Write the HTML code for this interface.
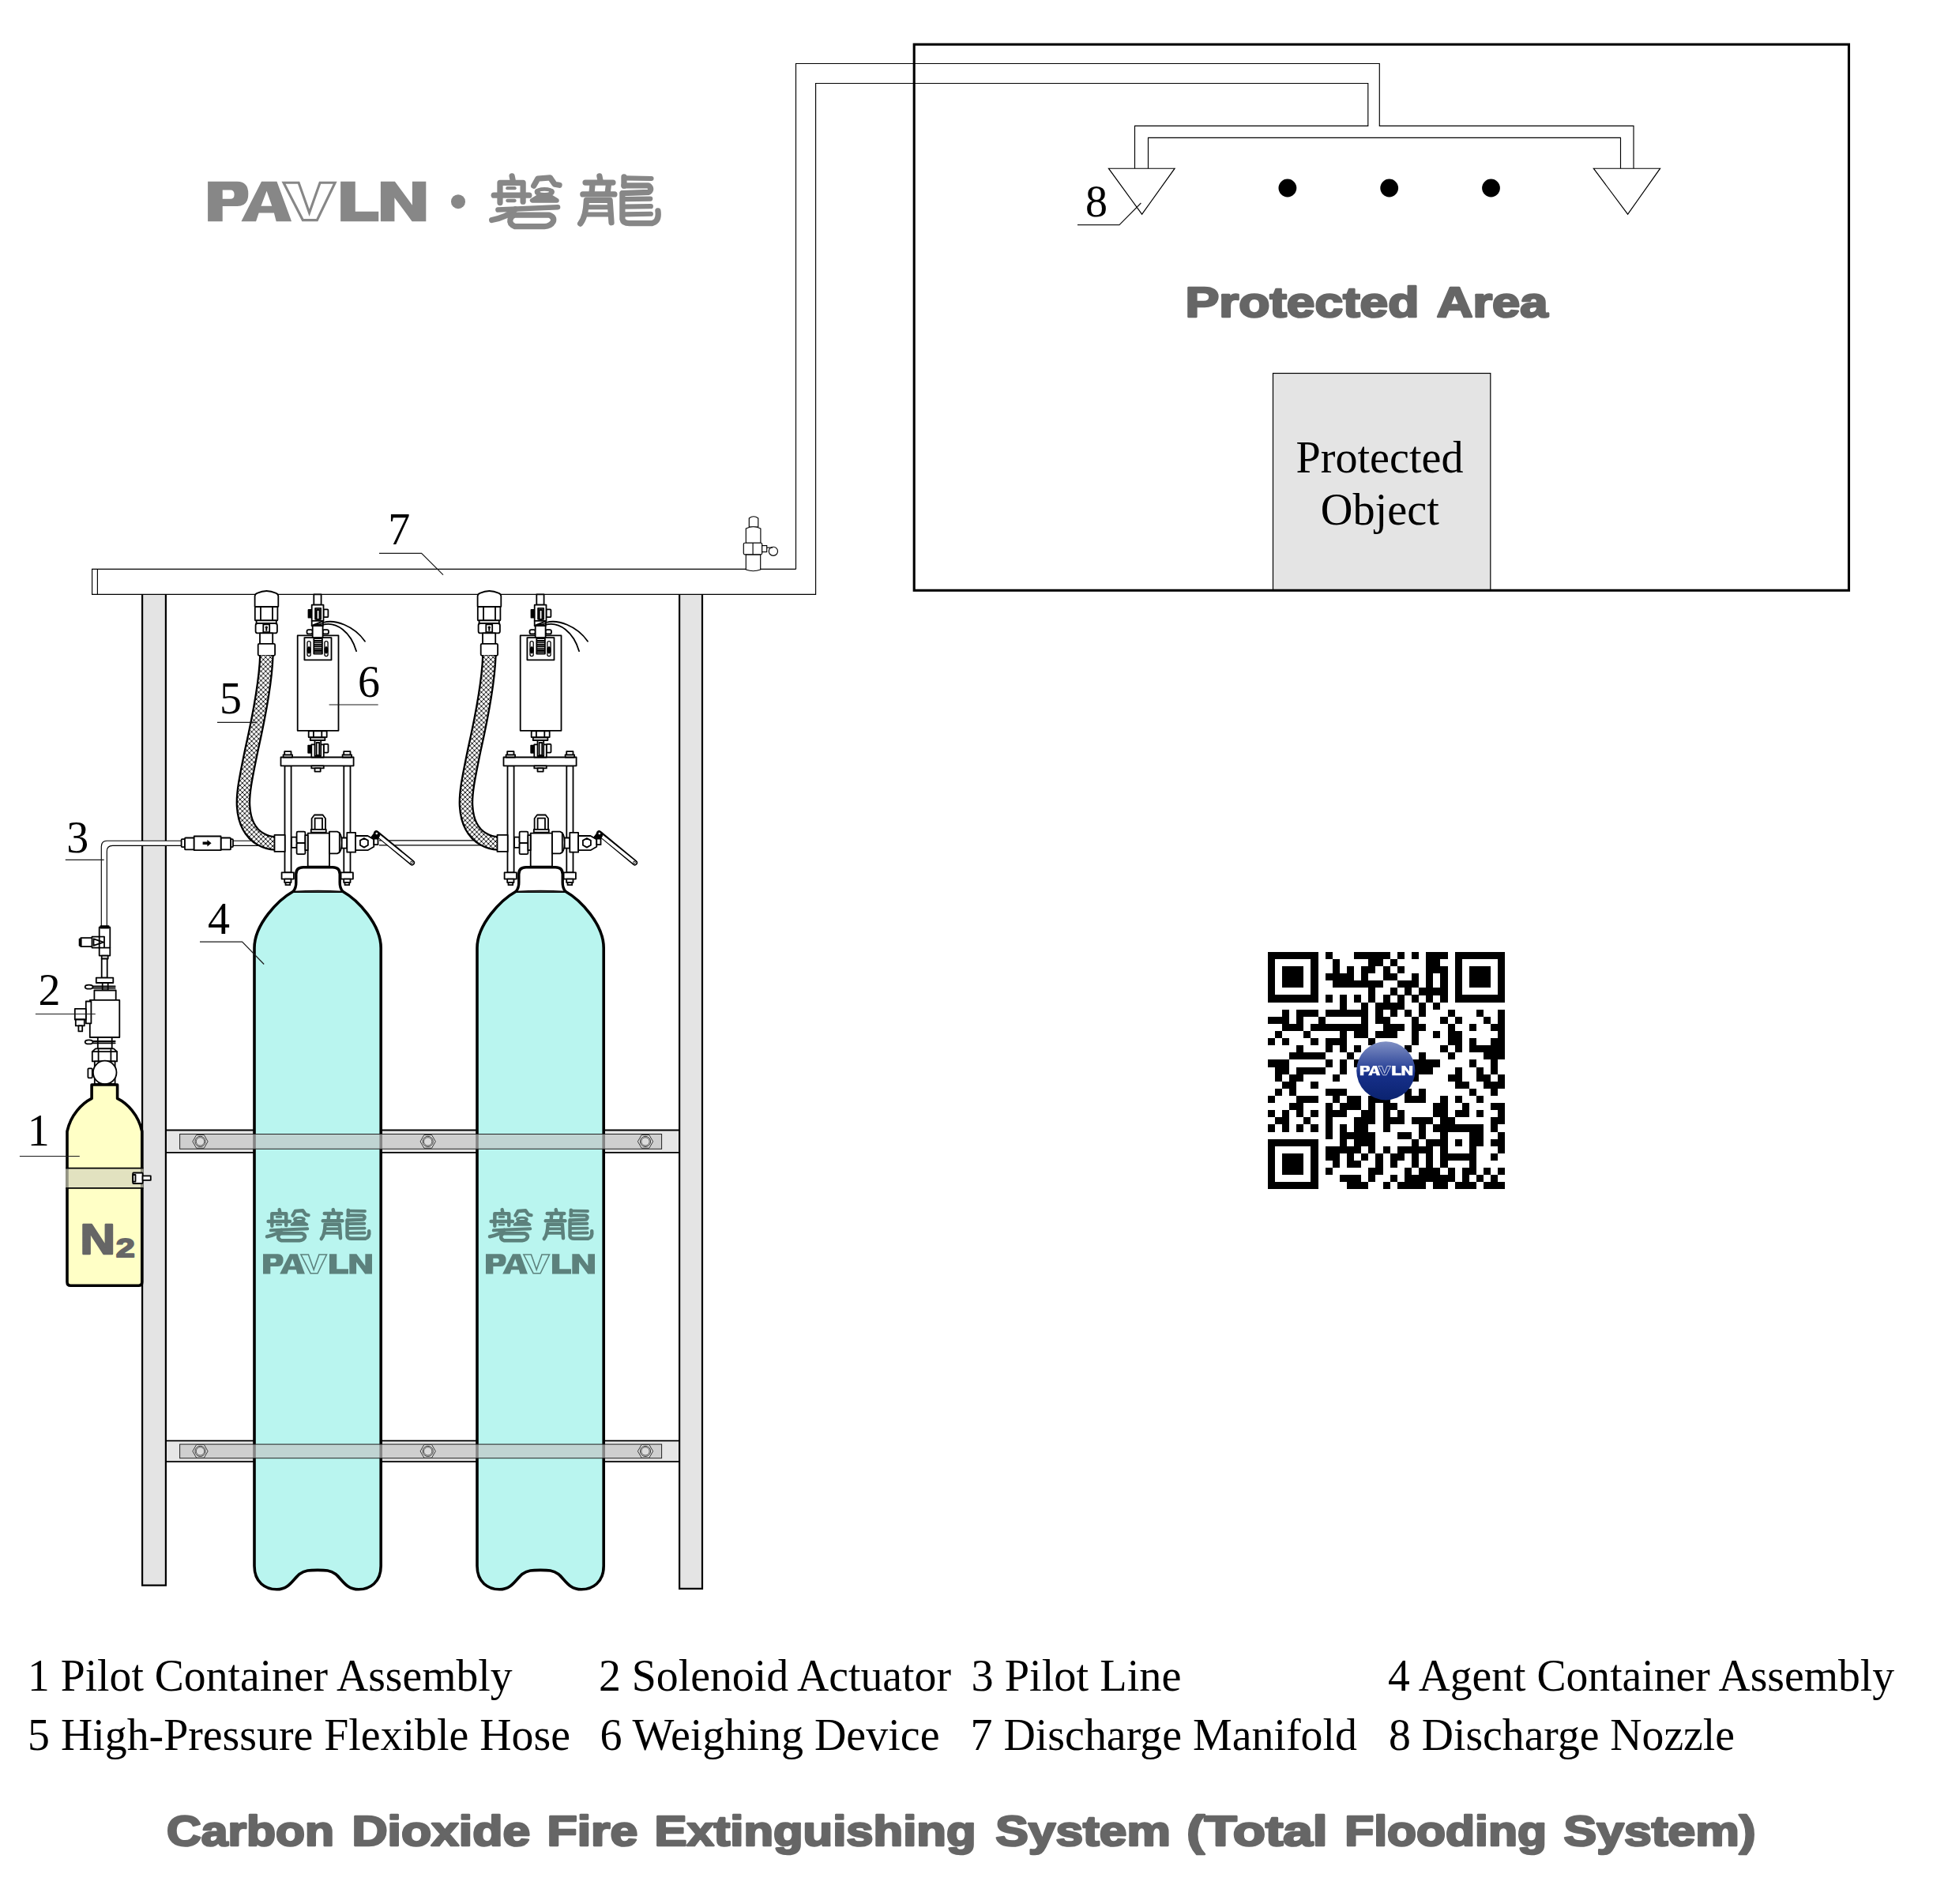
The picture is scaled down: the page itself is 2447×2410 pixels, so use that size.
<!DOCTYPE html>
<html><head><meta charset="utf-8"><title>Carbon Dioxide Fire Extinguishing System</title>
<style>
html,body{margin:0;padding:0;background:#fff;}
body{width:2447px;height:2410px;overflow:hidden;font-family:"Liberation Serif",serif;}
svg{display:block;position:absolute;left:0;top:0;}
text{font-family:"Liberation Serif",serif;fill:#000;}
.sans{font-family:"Liberation Sans",sans-serif;font-weight:bold;}
.k{fill:#fff;stroke:#000;stroke-width:1.8;stroke-linejoin:round;}
.kn{fill:none;stroke:#000;stroke-width:1.8;stroke-linejoin:round;stroke-linecap:round;}
.t{fill:none;stroke:#000;stroke-width:1.15;}
.tw{fill:#fff;stroke:#000;stroke-width:1.15;}
.ld{fill:none;stroke:#1a1a1a;stroke-width:1.2;}
</style></head>
<body>
<svg width="2447" height="2410" viewBox="0 0 2447 2410">
<defs>
<symbol id="pavln" overflow="visible">
<path fill-rule="evenodd" stroke="none" d="M52 95 H292 Q382 95 382 195 Q382 297 292 297 H172 V420 H52 Z M172 165 V237 H235 Q268 237 268 201 Q268 165 235 165 Z"/>
<path fill-rule="evenodd" stroke="none" d="M325 420 L490 95 H615 L735 420 H610 L592 352 H468 L445 420 Z M532 172 L486 295 H575 Z"/>
<path fill="none" stroke-width="20" stroke-linejoin="miter" d="M670 105 H793 L880 350 L967 105 H1090 L943 410 H827 Z"/>
<path stroke="none" d="M1135 95 H1255 V340 H1445 V420 H1135 Z"/>
<path stroke="none" d="M1462 95 H1578 L1720 288 V95 H1832 V420 H1718 L1575 228 V420 H1462 Z"/>
</symbol>
<symbol id="panlong" overflow="visible">
<g fill="none" stroke="currentColor" stroke-width="56" stroke-linecap="round" stroke-linejoin="round">
<path d="M372 100 L380 140"/>
<path d="M255 360 V165 H480 V350"/>
<path d="M195 288 H540"/>
<path d="M328 218 H398" stroke-width="34"/>
<path d="M328 340 H398" stroke-width="34"/>
<path d="M585 195 L625 125 L745 115 L790 180 L835 188"/>
<ellipse cx="690" cy="254" rx="80" ry="27" stroke-width="36"/>
<path d="M622 250 V262 M758 250 V262" stroke-width="50"/>
<path d="M640 296 L570 338 H810 L740 296 Z" fill="currentColor" stroke-width="46"/>
<path d="M235 430 L820 404" stroke-width="50"/>
<path d="M405 425 Q330 500 175 530"/>
<path d="M400 480 H735 Q790 500 775 545 Q750 590 690 592 H400 Q345 570 355 525 Q365 485 400 480 Z"/>
<path d="M1228 100 L1238 150"/>
<path d="M1090 163 H1360"/>
<path d="M1160 175 L1152 260"/>
<path d="M1318 175 L1308 260"/>
<path d="M1065 278 H1375"/>
<path d="M1040 565 Q1095 500 1100 335 H1330 L1345 555"/>
<path d="M1115 405 H1325" stroke-width="46"/>
<path d="M1110 475 H1328" stroke-width="46"/>
<path d="M1468 108 V195"/>
<path d="M1468 120 L1735 124" stroke-width="48"/>
<path d="M1468 192 H1705 Q1750 225 1710 258 L1455 268"/>
<path d="M1452 268 V520 Q1460 562 1520 562 H1740 Q1815 545 1800 440"/>
<path d="M1475 326 L1725 322" stroke-width="48"/>
<path d="M1475 400 L1730 396" stroke-width="48"/>
<path d="M1475 474 L1730 470" stroke-width="48"/>
</g>
</symbol><pattern id="hatch" width="5.9" height="5.9" patternUnits="userSpaceOnUse"><rect width="5.9" height="5.9" fill="#fff"/><path d="M-1 -1 L6.9 6.9 M6.9 -1 L-1 6.9" stroke="#000" stroke-width="0.95" fill="none"/></pattern>
<g id="asm">
<path d="M371.3 1128.2 C352 1139 322 1170 322 1200 V1982 C322 2003 336 2011.8 350.3 2011.8 C366 2011.8 371 1999 379 1992.5 C386 1987.4 392 1987.4 402.1 1987.4 C412 1987.4 418 1987.4 425 1992.5 C433 1999 438 2011.8 454 2011.8 C468 2011.8 482.2 2003 482.2 1982 V1200 C482.2 1170 453 1139 433.7 1128.2 Z" fill="#b9f5ef" stroke="#000" stroke-width="3.6" stroke-linejoin="round"/>
<path d="M371.3 1128.2 C375.5 1123 374.8 1119 374.8 1115 V1106.5 C374.8 1100.5 378 1097.8 384 1097.8 H421 C427 1097.8 430.2 1100.5 430.2 1106.5 V1115 C430.2 1119 429.5 1123 433.7 1128.2 Z" fill="#fff" stroke="none"/>
<path d="M371.3 1128.2 C375.5 1123 374.8 1119 374.8 1115 V1106.5 C374.8 1100.5 378 1097.8 384 1097.8 H421 C427 1097.8 430.2 1100.5 430.2 1106.5 V1115 C430.2 1119 429.5 1123 433.7 1128.2" fill="none" stroke="#000" stroke-width="3.4" stroke-linejoin="round" stroke-linecap="round"/>
<path d="M371.3 1128.4 Q402.5 1126.2 433.7 1128.4" fill="none" stroke="#000" stroke-width="1.3"/>
<rect class="k" x="389.70" y="1054.70" width="27.30" height="41.90"/>
<rect class="k" x="369.00" y="1059.70" width="6.60" height="13.20"/>
<rect class="k" x="375.60" y="1052.70" width="10.80" height="14.40" rx="1.5"/>
<rect class="k" x="375.60" y="1067.10" width="10.80" height="14.10" rx="1.5"/>
<rect class="k" x="386.40" y="1057.20" width="3.30" height="19.00"/>
<path class="k" d="M394.6 1049.8 V1036 L398 1031.5 H408.6 L412 1036 V1049.8 Z"/>
<rect class="kn" x="398.60" y="1035.60" width="9.40" height="14.20" stroke-width="1.3"/>
<rect class="k" x="393.80" y="1049.80" width="19.00" height="3.80"/>
<path class="k" d="M417 1052.7 H427 Q432.7 1054 432.7 1066.5 Q432.7 1079 427 1080.4 H417 Z"/>
<path class="kn" d="M429.8 1054.5 V1078.6" stroke-width="2.2"/>
<rect class="k" x="360.50" y="969.30" width="8.10" height="135.10"/>
<rect class="k" x="435.30" y="969.30" width="8.20" height="135.10"/>
<rect class="k" x="355.50" y="958.50" width="92.10" height="10.80" stroke-width="1.9"/>
<rect class="k" x="358.60" y="955.30" width="11.50" height="3.20"/>
<rect class="k" x="360.20" y="951.20" width="8.30" height="4.10"/>
<rect class="k" x="356.60" y="1104.40" width="15.30" height="8.20"/>
<rect class="k" x="360.20" y="1112.60" width="8.30" height="4.40"/>
<rect class="k" x="361.50" y="1117.00" width="5.70" height="3.20"/>
<rect class="k" x="433.60" y="955.30" width="11.50" height="3.20"/>
<rect class="k" x="435.20" y="951.20" width="8.30" height="4.10"/>
<rect class="k" x="431.60" y="1104.40" width="15.30" height="8.20"/>
<rect class="k" x="435.20" y="1112.60" width="8.30" height="4.40"/>
<rect class="k" x="436.50" y="1117.00" width="5.70" height="3.20"/>
<rect class="k" x="394.30" y="969.30" width="15.50" height="3.10"/>
<rect class="k" x="398.50" y="972.40" width="7.20" height="4.20"/>
<rect class="k" x="432.70" y="1060.50" width="6.60" height="13.20"/>
<rect class="k" x="439.30" y="1053.90" width="10.80" height="24.80"/>
<path class="k" d="M450.1 1058 H465.5 L473.3 1062.4 V1071.8 L465.5 1076.2 H450.1 Z"/>
<path class="k" d="M460.9 1061 L465.9 1063.9 V1069.7 L460.9 1072.6 L455.9 1069.7 V1063.9 Z"/>
<rect class="k" x="473.30" y="1061.60" width="5.20" height="7.60"/>
<path d="M476.5 1054.6 L521.6 1092" stroke="#000" stroke-width="7" stroke-linecap="round" fill="none"/>
<path d="M477.8 1056.6 L521.6 1092" stroke="#fff" stroke-width="3.8" stroke-linecap="round" fill="none"/>
<circle cx="521" cy="1091.5" r="1.4" fill="#fff" stroke="#000" stroke-width="0.9"/>
<path d="M469.5 1060 L474 1054 Q476.5 1051.3 479.3 1053.6 L481 1057 L478.5 1061.8 Z" fill="#000" stroke="#000" stroke-width="1"/>
<circle cx="476.8" cy="1055" r="1.3" fill="#fff"/>
<rect class="k" x="397.30" y="752.30" width="9.30" height="13.40"/>
<rect class="k" x="390.50" y="771.90" width="4.20" height="9.80" style="fill:#000"/>
<rect class="k" x="409.50" y="771.40" width="5.90" height="9.80" rx="1"/>
<rect class="k" x="394.70" y="765.70" width="14.80" height="20.20"/>
<rect class="kn" x="399.10" y="769.80" width="7.00" height="14.00" stroke-width="1.2"/>
<rect class="kn" x="400.80" y="772.00" width="3.60" height="11.80" stroke-width="1"/>
<rect class="k" x="394.70" y="785.90" width="14.10" height="6.30"/>
<path class="kn" d="M394.7 791.8 L408.8 786.4 M397 792.2 L408.8 789.3" stroke-width="1.1"/>
<rect class="k" x="388.50" y="797.20" width="7.20" height="5.20" rx="2"/>
<rect class="k" x="408.60" y="797.20" width="7.40" height="5.20" rx="2"/>
<rect class="k" x="376.70" y="804.40" width="51.80" height="120.40" stroke-width="1.9"/>
<rect class="k" x="395.70" y="792.20" width="12.90" height="15.30"/>
<rect class="k" x="385.40" y="807.10" width="34.10" height="28.20" stroke-width="1.8"/>
<rect class="k" x="397.30" y="808.20" width="10.60" height="19.30" stroke-width="1.3"/>
<path class="kn" d="M398 811.0 H407.3 M398 813.4 H407.3 M398 815.8 H407.3 M398 818.2 H407.3 M398 820.6 H407.3 M398 823.0 H407.3 M398 825.2 H407.3" stroke-width="0.8"/>
<rect x="389.0" y="811.6" width="4.2" height="19" rx="2.1" fill="#fff" stroke="#000" stroke-width="1.3"/>
<ellipse cx="391.1" cy="822.8" rx="2.4" ry="4.6" fill="#000"/>
<rect x="410.9" y="811.6" width="4.2" height="19" rx="2.1" fill="#fff" stroke="#000" stroke-width="1.3"/>
<ellipse cx="413" cy="822.8" rx="2.4" ry="4.6" fill="#000"/>
<path class="kn" d="M409.2 788 C424 783.5 448 792 462 811.7" stroke-width="1.3"/>
<path class="kn" d="M409.2 790.7 C426 786.5 444 800 451.1 824.2" stroke-width="1.3"/>
<rect class="k" x="390.70" y="925.40" width="23.00" height="7.70"/>
<path class="kn" d="M396.9 925.4 V933.1 M407.3 925.4 V933.1" stroke-width="1.3"/>
<rect class="k" x="392.80" y="933.60" width="18.60" height="3.40"/>
<rect class="k" x="390.20" y="943.60" width="4.10" height="9.20" style="fill:#000"/>
<rect class="k" x="409.80" y="941.80" width="5.70" height="10.80" rx="1"/>
<rect class="k" x="394.30" y="942.40" width="15.50" height="16.10"/>
<rect class="k" x="398.50" y="937.00" width="7.70" height="20.00"/>
<rect class="kn" x="400.60" y="940.00" width="3.60" height="16.00" stroke-width="1"/>
<path class="k" d="M322.6 767.8 V754.5 Q322.8 751.8 326 750.6 Q337.4 745.4 349 750.6 Q352.1 751.8 352.3 754.5 V767.8 Z"/>
<rect class="k" x="322.80" y="768.10" width="28.60" height="17.30" rx="1"/>
<path class="kn" d="M330 768.1 V785.4 M345 768.1 V785.4" stroke-width="1.4"/>
<rect class="k" x="324.60" y="785.40" width="25.20" height="3.60"/>
<rect class="k" x="323.60" y="789.00" width="27.30" height="12.40" rx="2.5"/>
<rect class="kn" x="333.30" y="790.30" width="7.90" height="9.90" stroke-width="1.2"/>
<path d="M337.3 792.5 a1.7 1.7 0 1 1 -0.01 0 M336.3 795 h2 v3.8 h-2z" fill="#000"/>
<rect class="k" x="329.00" y="801.40" width="16.20" height="13.40"/>
<rect class="k" x="326.70" y="814.80" width="21.40" height="15.00" rx="1.5"/>
<path d="M337.4 829.8 C336 870 325 920 318.3 949.7 C311 985 307 1005 308.1 1020.6 C309.2 1040 317 1055 330 1062.2 C337 1066.2 342 1067.4 348 1067.4" fill="none" stroke="#000" stroke-width="18.6"/>
<path d="M337.4 829.8 C336 870 325 920 318.3 949.7 C311 985 307 1005 308.1 1020.6 C309.2 1040 317 1055 330 1062.2 C337 1066.2 342 1067.4 348 1067.4" fill="none" stroke="url(#hatch)" stroke-width="14"/>
<rect class="k" x="347.50" y="1056.80" width="13.20" height="21.10"/>
</g><linearGradient id="qrg" x1="0" y1="0" x2="0" y2="1"><stop offset="0" stop-color="#8090c4"/><stop offset="0.45" stop-color="#2f479a"/><stop offset="0.55" stop-color="#17308a"/><stop offset="1" stop-color="#0b2370"/></linearGradient>
</defs>
<rect x="0" y="0" width="2447" height="2410" fill="#ffffff"/>
<g id="frame">
<rect x="210" y="1430.5" width="650" height="28.40" fill="#e6e6e6"/><path d="M210 1430.5 H860 M210 1458.9 H860" stroke="#000" stroke-width="1.8" fill="none"/>
<rect x="210" y="1823.6" width="650" height="26.60" fill="#e6e6e6"/><path d="M210 1823.6 H860 M210 1850.2 H860" stroke="#000" stroke-width="1.8" fill="none"/>
<rect x="180.1" y="752.3" width="29.80" height="1254.40" fill="#e4e4e4"/>
<path d="M180.1 752.3 V2006.7 H209.9 V752.3" fill="none" stroke="#000" stroke-width="2.2" stroke-linejoin="miter"/>
<rect x="860.1" y="752.3" width="28.90" height="1258.60" fill="#e4e4e4"/>
<path d="M860.1 752.3 V2010.9 H889.0 V752.3" fill="none" stroke="#000" stroke-width="2.2" stroke-linejoin="miter"/>
</g><g id="pipes">
<rect x="1611.5" y="472.5" width="275.3" height="275" fill="#e4e4e4" stroke="#000" stroke-width="1.2"/>
<rect x="1157.2" y="56.2" width="1183.3" height="691.1" fill="none" stroke="#000" stroke-width="3.1"/>
<path class="t" d="M1007.5 720.4 H116.6 V752.3 H1032.6 V105.5 H1731.8 V159.3 H1436.5 V213.2"/>
<path class="t" d="M1007.5 720.4 V80.5 H1746.3 V159.3 H2068 V213.2"/>
<path class="t" d="M1453.5 213.2 V174.3 H2051.5 V213.2"/>
<path class="t" d="M123.4 720.4 V752.3"/>
<path class="tw" d="M1403.4 213.2 H1487.1 L1445.6 271.2 Z"/>
<path class="tw" d="M2017.3 213.2 H2101.6 L2060.6 271.2 Z"/>
<circle cx="1629.9" cy="238" r="11.4" fill="#000"/>
<circle cx="1758.7" cy="238" r="11.4" fill="#000"/>
<circle cx="1887.5" cy="238" r="11.4" fill="#000"/>
<g class="tw">
<path d="M944.3 721 V701.8 H962.7 V721 Q953.5 724.5 944.3 721 Z" />
<path d="M948.3 667 V656 Q954 651.5 959.8 656 V667 Z"/>
<path d="M944.3 687.2 V669 Q953.6 664.5 962.9 669 V687.2 Z"/>
<rect x="941.3" y="687.2" width="23.4" height="14.6" rx="1.5"/>
<path d="M953.1 687.2 V701.8" />
<rect x="964.7" y="690.6" width="6" height="8"/>
<path d="M970.7 693.2 H978" />
<circle cx="978.9" cy="697.8" r="5.6" fill="none"/>
</g>
</g><g id="equip">
<path class="t" d="M480 1063.8 H625 M480 1069.8 H625"/>
<path class="t" d="M294 1064.2 H335 M294 1070.3 H335"/>
<use href="#asm"/>
<use href="#asm" transform="translate(282.0 0)"/>
<rect class="k" x="229.60" y="1062.20" width="4.40" height="9.90" rx="1"/>
<rect class="k" x="292.00" y="1062.20" width="3.00" height="9.90" rx="1"/>
<rect class="k" x="234.00" y="1060.50" width="11.70" height="14.90" rx="1"/>
<rect class="k" x="279.60" y="1060.50" width="12.40" height="14.90" rx="1"/>
<rect class="k" x="245.70" y="1058.50" width="33.90" height="17.70" stroke-width="1.8"/>
<path d="M256.6 1065.4 H262.4 V1063 L267.6 1067.2 L262.4 1071.4 V1069 H256.6 Z" fill="#000"/>
<rect x="227.6" y="1435.5" width="610" height="18.80" fill="rgba(196,196,196,0.68)" stroke="#222" stroke-width="1"/><polygon points="263.10,1444.90 258.30,1453.21 248.70,1453.21 243.90,1444.90 248.70,1436.59 258.30,1436.59" fill="#e2e2e2" stroke="#222" stroke-width="0.9"/><circle cx="253.5" cy="1444.9" r="6.6" fill="#e6e6e6" stroke="#222" stroke-width="0.9"/><circle cx="253.5" cy="1444.9" r="5.2" fill="#dcdcdc" stroke="#333" stroke-width="0.8"/><polygon points="551.30,1444.90 546.50,1453.21 536.90,1453.21 532.10,1444.90 536.90,1436.59 546.50,1436.59" fill="#e2e2e2" stroke="#222" stroke-width="0.9"/><circle cx="541.7" cy="1444.9" r="6.6" fill="#e6e6e6" stroke="#222" stroke-width="0.9"/><circle cx="541.7" cy="1444.9" r="5.2" fill="#dcdcdc" stroke="#333" stroke-width="0.8"/><polygon points="826.60,1444.90 821.80,1453.21 812.20,1453.21 807.40,1444.90 812.20,1436.59 821.80,1436.59" fill="#e2e2e2" stroke="#222" stroke-width="0.9"/><circle cx="817" cy="1444.9" r="6.6" fill="#e6e6e6" stroke="#222" stroke-width="0.9"/><circle cx="817" cy="1444.9" r="5.2" fill="#dcdcdc" stroke="#333" stroke-width="0.8"/>
<rect x="227.6" y="1828.1" width="610" height="17.60" fill="rgba(196,196,196,0.68)" stroke="#222" stroke-width="1"/><polygon points="263.10,1836.90 258.30,1845.21 248.70,1845.21 243.90,1836.90 248.70,1828.59 258.30,1828.59" fill="#e2e2e2" stroke="#222" stroke-width="0.9"/><circle cx="253.5" cy="1836.9" r="6.6" fill="#e6e6e6" stroke="#222" stroke-width="0.9"/><circle cx="253.5" cy="1836.9" r="5.2" fill="#dcdcdc" stroke="#333" stroke-width="0.8"/><polygon points="551.30,1836.90 546.50,1845.21 536.90,1845.21 532.10,1836.90 536.90,1828.59 546.50,1828.59" fill="#e2e2e2" stroke="#222" stroke-width="0.9"/><circle cx="541.7" cy="1836.9" r="6.6" fill="#e6e6e6" stroke="#222" stroke-width="0.9"/><circle cx="541.7" cy="1836.9" r="5.2" fill="#dcdcdc" stroke="#333" stroke-width="0.8"/><polygon points="826.60,1836.90 821.80,1845.21 812.20,1845.21 807.40,1836.90 812.20,1828.59 821.80,1828.59" fill="#e2e2e2" stroke="#222" stroke-width="0.9"/><circle cx="817" cy="1836.9" r="6.6" fill="#e6e6e6" stroke="#222" stroke-width="0.9"/><circle cx="817" cy="1836.9" r="5.2" fill="#dcdcdc" stroke="#333" stroke-width="0.8"/>
</g><g id="pilot">
<rect x="179" y="1064.2" width="32" height="6.1" fill="#fff"/>
<path class="t" d="M128.3 1174 V1071.4 Q128.3 1064.2 135.5 1064.2 H230"/>
<path class="t" d="M135.3 1174 V1077.5 Q135.3 1070.3 142.5 1070.3 H230"/>
<rect class="k" x="102.30" y="1187.20" width="14.70" height="11.00"/>
<rect class="k" x="100.60" y="1188.60" width="2.00" height="8.20" style="fill:#000"/>
<rect class="k" x="116.50" y="1185.70" width="9.50" height="13.90"/>
<rect class="k" x="125.70" y="1173.70" width="13.60" height="35.90"/>
<path class="kn" d="M125.7 1185.7 H132 M125.7 1199.6 H139.3 M132 1185.7 V1199.6" stroke-width="1.3"/>
<path class="kn" d="M118.5 1188.4 L131 1192.6 L118.5 1196.9 Z" stroke-width="1.2"/>
<rect class="k" x="127.40" y="1172.20" width="10.20" height="2.40" style="fill:#000"/>
<rect class="k" x="128.70" y="1209.60" width="8.00" height="4.00" style="fill:#ddd"/>
<rect class="k" x="128.70" y="1213.60" width="7.00" height="24.00"/>
<rect class="k" x="121.80" y="1237.60" width="21.50" height="6.40"/>
<rect class="k" x="129.70" y="1244.00" width="7.00" height="9.50"/>
<path class="kn" d="M117.5 1248.3 H145.7 M117.5 1250.6 H145.7" stroke-width="1.1"/>
<ellipse cx="112.6" cy="1249.2" rx="4.9" ry="2.5" class="k" stroke-width="1.4"/>
<rect class="k" x="119.40" y="1253.50" width="27.30" height="12.40"/>
<rect class="k" x="113.80" y="1265.90" width="37.50" height="47.10" stroke-width="1.9"/>
<rect class="k" x="108.80" y="1267.50" width="6.60" height="27.90"/>
<rect class="k" x="94.80" y="1276.90" width="14.00" height="13.60"/>
<rect class="k" x="95.80" y="1290.50" width="11.00" height="7.90"/>
<rect class="k" x="99.40" y="1298.40" width="4.80" height="7.00"/>
<rect class="k" x="123.80" y="1313.00" width="17.90" height="14.40"/>
<path class="kn" d="M117.5 1318 H145.7 M117.5 1320.3 H145.7" stroke-width="1.1"/>
<ellipse cx="112.6" cy="1318.9" rx="4.9" ry="2.5" class="k" stroke-width="1.4"/>
<path class="k" d="M116.8 1343.4 V1331.2 L121 1327.4 H144 L148.1 1331.2 V1343.4 Z"/>
<path class="kn" d="M124.6 1329 V1343.4 M140.4 1329 V1343.4 M116.8 1331.2 H148.1" stroke-width="1.2"/>
<rect class="k" x="119.80" y="1343.40" width="25.80" height="28.60"/>
<rect class="k" x="111.40" y="1352.30" width="5.40" height="12.00" rx="1"/>
<circle cx="132.7" cy="1357.5" r="14.8" class="k" stroke-width="1.8"/>
<path d="M116.1 1373 H148.6 V1390.4 C161 1396.5 175.3 1411 179.8 1432 V1622.8 Q179.8 1627.3 175.3 1627.3 H89.5 Q85 1627.3 85 1622.8 V1432 C89.5 1411 104 1396.5 116.1 1390.4 Z" fill="#ffffc6" stroke="#000" stroke-width="3.6" stroke-linejoin="round"/>
<rect x="83.2" y="1478.7" width="98.3" height="25.2" fill="rgba(214,214,190,0.7)"/>
<path d="M83.2 1478.7 H181.5 M83.2 1503.9 H181.5" stroke="#000" stroke-width="1.7" fill="none"/>
<rect class="k" x="168.20" y="1484.50" width="12.40" height="13.50" rx="0.8"/>
<rect class="kn" x="168.20" y="1487.00" width="3.30" height="8.60" stroke-width="1"/>
<rect class="k" x="180.60" y="1488.40" width="10.20" height="5.40"/>
<text x="101.6" y="1586.6" font-size="54" textLength="44.5" lengthAdjust="spacingAndGlyphs" stroke-width="2.4" fill="#666" stroke="#666" stroke-linejoin="round" class="sans" style="fill:#666">N</text>
<text x="146.8" y="1591" font-size="33" textLength="24" lengthAdjust="spacingAndGlyphs" stroke-width="1.8" fill="#666" stroke="#666" stroke-linejoin="round" class="sans" style="fill:#666">2</text>
</g><g id="logos">
<use href="#pavln" transform="translate(255.03 214.96) scale(0.15517)" fill="#878787" stroke="#878787"/>
<circle cx="580" cy="255.2" r="9" fill="#878787"/>
<use href="#panlong" transform="translate(599.99 209.94) scale(0.12940)" style="color:#878787"/>
<use href="#panlong" transform="translate(324.07 1523.13) scale(0.07952)" style="color:#5c817c"/>
<use href="#pavln" transform="translate(328.97 1579.93) scale(0.07753)" fill="#5c817c" stroke="#5c817c"/>
<use href="#panlong" transform="translate(606.07 1523.13) scale(0.07952)" style="color:#5c817c"/>
<use href="#pavln" transform="translate(610.97 1579.93) scale(0.07753)" fill="#5c817c" stroke="#5c817c"/>
</g><g id="qr">
<path d="M1604.80 1204.80h63.76v9.16h-63.76zM1677.67 1204.80h9.11v9.16h-9.11zM1714.11 1204.80h45.55v9.16h-45.55zM1768.76 1204.80h9.11v9.16h-9.11zM1786.98 1204.80h9.11v9.16h-9.11zM1805.20 1204.80h27.33v9.16h-27.33zM1841.63 1204.80h63.76v9.16h-63.76zM1604.80 1213.91h9.11v9.16h-9.11zM1659.45 1213.91h9.11v9.16h-9.11zM1686.78 1213.91h9.11v9.16h-9.11zM1732.33 1213.91h18.22v9.16h-18.22zM1759.65 1213.91h9.11v9.16h-9.11zM1805.20 1213.91h18.22v9.16h-18.22zM1841.63 1213.91h9.11v9.16h-9.11zM1896.29 1213.91h9.11v9.16h-9.11zM1604.80 1223.02h9.11v9.16h-9.11zM1623.02 1223.02h27.33v9.16h-27.33zM1659.45 1223.02h9.11v9.16h-9.11zM1686.78 1223.02h9.11v9.16h-9.11zM1705.00 1223.02h9.11v9.16h-9.11zM1723.22 1223.02h18.22v9.16h-18.22zM1750.54 1223.02h9.11v9.16h-9.11zM1768.76 1223.02h9.11v9.16h-9.11zM1805.20 1223.02h27.33v9.16h-27.33zM1841.63 1223.02h9.11v9.16h-9.11zM1859.85 1223.02h27.33v9.16h-27.33zM1896.29 1223.02h9.11v9.16h-9.11zM1604.80 1232.13h9.11v9.16h-9.11zM1623.02 1232.13h27.33v9.16h-27.33zM1659.45 1232.13h9.11v9.16h-9.11zM1677.67 1232.13h36.44v9.16h-36.44zM1723.22 1232.13h9.11v9.16h-9.11zM1750.54 1232.13h18.22v9.16h-18.22zM1786.98 1232.13h9.11v9.16h-9.11zM1805.20 1232.13h9.11v9.16h-9.11zM1823.42 1232.13h9.11v9.16h-9.11zM1841.63 1232.13h9.11v9.16h-9.11zM1859.85 1232.13h27.33v9.16h-27.33zM1896.29 1232.13h9.11v9.16h-9.11zM1604.80 1241.24h9.11v9.16h-9.11zM1623.02 1241.24h27.33v9.16h-27.33zM1659.45 1241.24h9.11v9.16h-9.11zM1686.78 1241.24h63.76v9.16h-63.76zM1768.76 1241.24h27.33v9.16h-27.33zM1805.20 1241.24h9.11v9.16h-9.11zM1823.42 1241.24h9.11v9.16h-9.11zM1841.63 1241.24h9.11v9.16h-9.11zM1859.85 1241.24h27.33v9.16h-27.33zM1896.29 1241.24h9.11v9.16h-9.11zM1604.80 1250.35h9.11v9.16h-9.11zM1659.45 1250.35h9.11v9.16h-9.11zM1732.33 1250.35h9.11v9.16h-9.11zM1759.65 1250.35h9.11v9.16h-9.11zM1777.87 1250.35h9.11v9.16h-9.11zM1796.09 1250.35h36.44v9.16h-36.44zM1841.63 1250.35h9.11v9.16h-9.11zM1896.29 1250.35h9.11v9.16h-9.11zM1604.80 1259.45h63.76v9.16h-63.76zM1677.67 1259.45h9.11v9.16h-9.11zM1695.89 1259.45h9.11v9.16h-9.11zM1714.11 1259.45h9.11v9.16h-9.11zM1732.33 1259.45h9.11v9.16h-9.11zM1750.54 1259.45h9.11v9.16h-9.11zM1768.76 1259.45h9.11v9.16h-9.11zM1786.98 1259.45h9.11v9.16h-9.11zM1805.20 1259.45h9.11v9.16h-9.11zM1823.42 1259.45h9.11v9.16h-9.11zM1841.63 1259.45h63.76v9.16h-63.76zM1695.89 1268.56h9.11v9.16h-9.11zM1723.22 1268.56h9.11v9.16h-9.11zM1741.43 1268.56h36.44v9.16h-36.44zM1796.09 1268.56h9.11v9.16h-9.11zM1814.31 1268.56h9.11v9.16h-9.11zM1623.02 1277.67h9.11v9.16h-9.11zM1641.24 1277.67h27.33v9.16h-27.33zM1677.67 1277.67h54.65v9.16h-54.65zM1741.43 1277.67h9.11v9.16h-9.11zM1759.65 1277.67h9.11v9.16h-9.11zM1777.87 1277.67h9.11v9.16h-9.11zM1796.09 1277.67h9.11v9.16h-9.11zM1832.52 1277.67h9.11v9.16h-9.11zM1868.96 1277.67h9.11v9.16h-9.11zM1896.29 1277.67h9.11v9.16h-9.11zM1604.80 1286.78h27.33v9.16h-27.33zM1641.24 1286.78h9.11v9.16h-9.11zM1668.56 1286.78h9.11v9.16h-9.11zM1723.22 1286.78h9.11v9.16h-9.11zM1741.43 1286.78h18.22v9.16h-18.22zM1786.98 1286.78h9.11v9.16h-9.11zM1823.42 1286.78h9.11v9.16h-9.11zM1841.63 1286.78h9.11v9.16h-9.11zM1878.07 1286.78h9.11v9.16h-9.11zM1896.29 1286.78h9.11v9.16h-9.11zM1623.02 1295.89h27.33v9.16h-27.33zM1659.45 1295.89h72.87v9.16h-72.87zM1750.54 1295.89h27.33v9.16h-27.33zM1786.98 1295.89h18.22v9.16h-18.22zM1832.52 1295.89h9.11v9.16h-9.11zM1859.85 1295.89h9.11v9.16h-9.11zM1887.18 1295.89h18.22v9.16h-18.22zM1613.91 1305.00h9.11v9.16h-9.11zM1650.35 1305.00h9.11v9.16h-9.11zM1695.89 1305.00h9.11v9.16h-9.11zM1714.11 1305.00h18.22v9.16h-18.22zM1741.43 1305.00h27.33v9.16h-27.33zM1786.98 1305.00h9.11v9.16h-9.11zM1814.31 1305.00h9.11v9.16h-9.11zM1832.52 1305.00h18.22v9.16h-18.22zM1896.29 1305.00h9.11v9.16h-9.11zM1604.80 1314.11h9.11v9.16h-9.11zM1623.02 1314.11h9.11v9.16h-9.11zM1659.45 1314.11h9.11v9.16h-9.11zM1677.67 1314.11h27.33v9.16h-27.33zM1732.33 1314.11h9.11v9.16h-9.11zM1786.98 1314.11h9.11v9.16h-9.11zM1832.52 1314.11h18.22v9.16h-18.22zM1859.85 1314.11h9.11v9.16h-9.11zM1887.18 1314.11h18.22v9.16h-18.22zM1641.24 1323.22h9.11v9.16h-9.11zM1677.67 1323.22h9.11v9.16h-9.11zM1695.89 1323.22h9.11v9.16h-9.11zM1714.11 1323.22h9.11v9.16h-9.11zM1777.87 1323.22h9.11v9.16h-9.11zM1823.42 1323.22h9.11v9.16h-9.11zM1841.63 1323.22h9.11v9.16h-9.11zM1859.85 1323.22h45.55v9.16h-45.55zM1632.13 1332.33h45.55v9.16h-45.55zM1705.00 1332.33h9.11v9.16h-9.11zM1796.09 1332.33h9.11v9.16h-9.11zM1832.52 1332.33h9.11v9.16h-9.11zM1878.07 1332.33h27.33v9.16h-27.33zM1604.80 1341.43h27.33v9.16h-27.33zM1677.67 1341.43h9.11v9.16h-9.11zM1695.89 1341.43h9.11v9.16h-9.11zM1714.11 1341.43h9.11v9.16h-9.11zM1786.98 1341.43h36.44v9.16h-36.44zM1859.85 1341.43h9.11v9.16h-9.11zM1887.18 1341.43h9.11v9.16h-9.11zM1613.91 1350.54h18.22v9.16h-18.22zM1641.24 1350.54h36.44v9.16h-36.44zM1695.89 1350.54h9.11v9.16h-9.11zM1786.98 1350.54h27.33v9.16h-27.33zM1841.63 1350.54h9.11v9.16h-9.11zM1868.96 1350.54h9.11v9.16h-9.11zM1887.18 1350.54h9.11v9.16h-9.11zM1613.91 1359.65h9.11v9.16h-9.11zM1632.13 1359.65h18.22v9.16h-18.22zM1686.78 1359.65h9.11v9.16h-9.11zM1786.98 1359.65h9.11v9.16h-9.11zM1832.52 1359.65h18.22v9.16h-18.22zM1868.96 1359.65h18.22v9.16h-18.22zM1896.29 1359.65h9.11v9.16h-9.11zM1623.02 1368.76h18.22v9.16h-18.22zM1659.45 1368.76h9.11v9.16h-9.11zM1841.63 1368.76h18.22v9.16h-18.22zM1878.07 1368.76h27.33v9.16h-27.33zM1613.91 1377.87h9.11v9.16h-9.11zM1632.13 1377.87h9.11v9.16h-9.11zM1677.67 1377.87h27.33v9.16h-27.33zM1777.87 1377.87h9.11v9.16h-9.11zM1796.09 1377.87h9.11v9.16h-9.11zM1859.85 1377.87h9.11v9.16h-9.11zM1887.18 1377.87h9.11v9.16h-9.11zM1604.80 1386.98h9.11v9.16h-9.11zM1641.24 1386.98h27.33v9.16h-27.33zM1686.78 1386.98h9.11v9.16h-9.11zM1705.00 1386.98h18.22v9.16h-18.22zM1732.33 1386.98h27.33v9.16h-27.33zM1777.87 1386.98h27.33v9.16h-27.33zM1823.42 1386.98h9.11v9.16h-9.11zM1841.63 1386.98h9.11v9.16h-9.11zM1868.96 1386.98h9.11v9.16h-9.11zM1632.13 1396.09h18.22v9.16h-18.22zM1677.67 1396.09h9.11v9.16h-9.11zM1695.89 1396.09h27.33v9.16h-27.33zM1732.33 1396.09h9.11v9.16h-9.11zM1750.54 1396.09h18.22v9.16h-18.22zM1814.31 1396.09h18.22v9.16h-18.22zM1850.74 1396.09h9.11v9.16h-9.11zM1887.18 1396.09h18.22v9.16h-18.22zM1604.80 1405.20h9.11v9.16h-9.11zM1623.02 1405.20h9.11v9.16h-9.11zM1641.24 1405.20h9.11v9.16h-9.11zM1659.45 1405.20h9.11v9.16h-9.11zM1677.67 1405.20h27.33v9.16h-27.33zM1723.22 1405.20h18.22v9.16h-18.22zM1750.54 1405.20h9.11v9.16h-9.11zM1768.76 1405.20h9.11v9.16h-9.11zM1814.31 1405.20h18.22v9.16h-18.22zM1841.63 1405.20h18.22v9.16h-18.22zM1868.96 1405.20h9.11v9.16h-9.11zM1896.29 1405.20h9.11v9.16h-9.11zM1613.91 1414.31h18.22v9.16h-18.22zM1650.35 1414.31h9.11v9.16h-9.11zM1677.67 1414.31h9.11v9.16h-9.11zM1714.11 1414.31h27.33v9.16h-27.33zM1750.54 1414.31h27.33v9.16h-27.33zM1786.98 1414.31h27.33v9.16h-27.33zM1823.42 1414.31h18.22v9.16h-18.22zM1887.18 1414.31h18.22v9.16h-18.22zM1604.80 1423.42h9.11v9.16h-9.11zM1623.02 1423.42h9.11v9.16h-9.11zM1641.24 1423.42h9.11v9.16h-9.11zM1659.45 1423.42h9.11v9.16h-9.11zM1677.67 1423.42h9.11v9.16h-9.11zM1695.89 1423.42h9.11v9.16h-9.11zM1714.11 1423.42h18.22v9.16h-18.22zM1750.54 1423.42h9.11v9.16h-9.11zM1796.09 1423.42h9.11v9.16h-9.11zM1814.31 1423.42h63.76v9.16h-63.76zM1887.18 1423.42h9.11v9.16h-9.11zM1677.67 1432.52h9.11v9.16h-9.11zM1695.89 1432.52h45.55v9.16h-45.55zM1768.76 1432.52h18.22v9.16h-18.22zM1796.09 1432.52h9.11v9.16h-9.11zM1823.42 1432.52h9.11v9.16h-9.11zM1859.85 1432.52h18.22v9.16h-18.22zM1896.29 1432.52h9.11v9.16h-9.11zM1604.80 1441.63h63.76v9.16h-63.76zM1695.89 1441.63h9.11v9.16h-9.11zM1714.11 1441.63h27.33v9.16h-27.33zM1786.98 1441.63h9.11v9.16h-9.11zM1805.20 1441.63h27.33v9.16h-27.33zM1841.63 1441.63h9.11v9.16h-9.11zM1859.85 1441.63h18.22v9.16h-18.22zM1887.18 1441.63h18.22v9.16h-18.22zM1604.80 1450.74h9.11v9.16h-9.11zM1659.45 1450.74h9.11v9.16h-9.11zM1677.67 1450.74h45.55v9.16h-45.55zM1732.33 1450.74h9.11v9.16h-9.11zM1750.54 1450.74h9.11v9.16h-9.11zM1768.76 1450.74h45.55v9.16h-45.55zM1823.42 1450.74h9.11v9.16h-9.11zM1859.85 1450.74h9.11v9.16h-9.11zM1896.29 1450.74h9.11v9.16h-9.11zM1604.80 1459.85h9.11v9.16h-9.11zM1623.02 1459.85h27.33v9.16h-27.33zM1659.45 1459.85h9.11v9.16h-9.11zM1677.67 1459.85h18.22v9.16h-18.22zM1705.00 1459.85h9.11v9.16h-9.11zM1723.22 1459.85h9.11v9.16h-9.11zM1741.43 1459.85h9.11v9.16h-9.11zM1759.65 1459.85h18.22v9.16h-18.22zM1786.98 1459.85h9.11v9.16h-9.11zM1805.20 1459.85h9.11v9.16h-9.11zM1823.42 1459.85h45.55v9.16h-45.55zM1887.18 1459.85h9.11v9.16h-9.11zM1604.80 1468.96h9.11v9.16h-9.11zM1623.02 1468.96h27.33v9.16h-27.33zM1659.45 1468.96h9.11v9.16h-9.11zM1686.78 1468.96h9.11v9.16h-9.11zM1705.00 1468.96h18.22v9.16h-18.22zM1741.43 1468.96h9.11v9.16h-9.11zM1759.65 1468.96h9.11v9.16h-9.11zM1786.98 1468.96h9.11v9.16h-9.11zM1805.20 1468.96h9.11v9.16h-9.11zM1823.42 1468.96h9.11v9.16h-9.11zM1859.85 1468.96h9.11v9.16h-9.11zM1604.80 1478.07h9.11v9.16h-9.11zM1623.02 1478.07h27.33v9.16h-27.33zM1659.45 1478.07h9.11v9.16h-9.11zM1677.67 1478.07h9.11v9.16h-9.11zM1732.33 1478.07h18.22v9.16h-18.22zM1777.87 1478.07h9.11v9.16h-9.11zM1796.09 1478.07h27.33v9.16h-27.33zM1832.52 1478.07h9.11v9.16h-9.11zM1850.74 1478.07h18.22v9.16h-18.22zM1878.07 1478.07h9.11v9.16h-9.11zM1896.29 1478.07h9.11v9.16h-9.11zM1604.80 1487.18h9.11v9.16h-9.11zM1659.45 1487.18h9.11v9.16h-9.11zM1695.89 1487.18h27.33v9.16h-27.33zM1732.33 1487.18h9.11v9.16h-9.11zM1759.65 1487.18h9.11v9.16h-9.11zM1777.87 1487.18h63.76v9.16h-63.76zM1850.74 1487.18h9.11v9.16h-9.11zM1868.96 1487.18h9.11v9.16h-9.11zM1887.18 1487.18h9.11v9.16h-9.11zM1604.80 1496.29h63.76v9.16h-63.76zM1705.00 1496.29h27.33v9.16h-27.33zM1750.54 1496.29h9.11v9.16h-9.11zM1768.76 1496.29h36.44v9.16h-36.44zM1814.31 1496.29h18.22v9.16h-18.22zM1841.63 1496.29h27.33v9.16h-27.33zM1878.07 1496.29h27.33v9.16h-27.33z" fill="#000" shape-rendering="crispEdges"/>
<circle cx="1754.3" cy="1355.3" r="37.1" fill="url(#qrg)"/>
<use href="#pavln" transform="translate(1719.86 1345.46) scale(0.03730)" fill="#fff" stroke="#fff"/>
</g><g id="texts">
<text x="35" y="2139.9" font-size="56" text-anchor="start" textLength="613.5" lengthAdjust="spacingAndGlyphs">1 Pilot Container Assembly</text>
<text x="758" y="2139.9" font-size="56" text-anchor="start" textLength="446" lengthAdjust="spacingAndGlyphs">2 Solenoid Actuator</text>
<text x="1229.5" y="2139.9" font-size="56" text-anchor="start" textLength="266" lengthAdjust="spacingAndGlyphs">3 Pilot Line</text>
<text x="1757" y="2139.9" font-size="56" text-anchor="start" textLength="641" lengthAdjust="spacingAndGlyphs">4 Agent Container Assembly</text>
<text x="35" y="2214.6" font-size="56" text-anchor="start" textLength="687" lengthAdjust="spacingAndGlyphs">5 High-Pressure Flexible Hose</text>
<text x="759.5" y="2214.6" font-size="56" text-anchor="start" textLength="430" lengthAdjust="spacingAndGlyphs">6 Weighing Device</text>
<text x="1228.5" y="2214.6" font-size="56" text-anchor="start" textLength="489.5" lengthAdjust="spacingAndGlyphs">7 Discharge Manifold</text>
<text x="1758" y="2214.6" font-size="56" text-anchor="start" textLength="438" lengthAdjust="spacingAndGlyphs">8 Discharge Nozzle</text>
<text x="1388" y="274" font-size="56" text-anchor="middle">8</text>
<text x="505.3" y="689.1" font-size="56" text-anchor="middle">7</text>
<text x="466.9" y="882.1" font-size="56" text-anchor="middle">6</text>
<text x="291.9" y="903.2" font-size="56" text-anchor="middle">5</text>
<text x="277" y="1181.5" font-size="56" text-anchor="middle">4</text>
<text x="98.3" y="1078.7" font-size="56" text-anchor="middle">3</text>
<text x="62.4" y="1271.5" font-size="56" text-anchor="middle">2</text>
<text x="48.8" y="1450.1" font-size="56" text-anchor="middle">1</text>
<g class="ld">
<path d="M1364 284.6 H1417 L1444.4 257"/>
<path d="M480 700.3 H533.6 L561 727.6"/>
<path d="M416.6 892 H478.7"/>
<path d="M275 914.3 H325.4"/>
<path d="M253 1192.2 H306.6 L334.2 1220.5"/>
<path d="M82.8 1088.3 H131.7"/>
<path d="M44.9 1283.5 H120.8"/>
<path d="M24.9 1463.5 H100.8"/>
</g>
<text x="1746.5" y="598.2" font-size="56" text-anchor="middle" textLength="212" lengthAdjust="spacingAndGlyphs">Protected</text>
<text x="1746.8" y="664.1" font-size="56" text-anchor="middle" textLength="150" lengthAdjust="spacingAndGlyphs">Object</text>
<text x="1500.6" y="401.2" font-size="53" text-anchor="start" textLength="295.8" lengthAdjust="spacingAndGlyphs" class="sans" fill="#666" stroke="#666" stroke-width="2.6" stroke-linejoin="round" style="fill:#666">Protected</text>
<text x="1818.7" y="401.2" font-size="53" text-anchor="start" textLength="140.7" lengthAdjust="spacingAndGlyphs" class="sans" fill="#666" stroke="#666" stroke-width="2.6" stroke-linejoin="round" style="fill:#666">Area</text>
<text x="211.1" y="2336.1" font-size="53" text-anchor="start" textLength="211.9" lengthAdjust="spacingAndGlyphs" class="sans" fill="#666" stroke="#666" stroke-width="2.6" stroke-linejoin="round" style="fill:#666">Carbon</text>
<text x="445.4" y="2336.1" font-size="53" text-anchor="start" textLength="225.8" lengthAdjust="spacingAndGlyphs" class="sans" fill="#666" stroke="#666" stroke-width="2.6" stroke-linejoin="round" style="fill:#666">Dioxide</text>
<text x="692.4" y="2336.1" font-size="53" text-anchor="start" textLength="114.9" lengthAdjust="spacingAndGlyphs" class="sans" fill="#666" stroke="#666" stroke-width="2.6" stroke-linejoin="round" style="fill:#666">Fire</text>
<text x="828.5" y="2336.1" font-size="53" text-anchor="start" textLength="407.0" lengthAdjust="spacingAndGlyphs" class="sans" fill="#666" stroke="#666" stroke-width="2.6" stroke-linejoin="round" style="fill:#666">Extinguishing</text>
<text x="1260.3" y="2336.1" font-size="53" text-anchor="start" textLength="221.6" lengthAdjust="spacingAndGlyphs" class="sans" fill="#666" stroke="#666" stroke-width="2.6" stroke-linejoin="round" style="fill:#666">System</text>
<text x="1502.2" y="2336.1" font-size="53" text-anchor="start" textLength="178.4" lengthAdjust="spacingAndGlyphs" class="sans" fill="#666" stroke="#666" stroke-width="2.6" stroke-linejoin="round" style="fill:#666">(Total</text>
<text x="1702.2" y="2336.1" font-size="53" text-anchor="start" textLength="255.8" lengthAdjust="spacingAndGlyphs" class="sans" fill="#666" stroke="#666" stroke-width="2.6" stroke-linejoin="round" style="fill:#666">Flooding</text>
<text x="1979.6" y="2336.1" font-size="53" text-anchor="start" textLength="242.9" lengthAdjust="spacingAndGlyphs" class="sans" fill="#666" stroke="#666" stroke-width="2.6" stroke-linejoin="round" style="fill:#666">System)</text>
</g>
</svg>
</body></html>
